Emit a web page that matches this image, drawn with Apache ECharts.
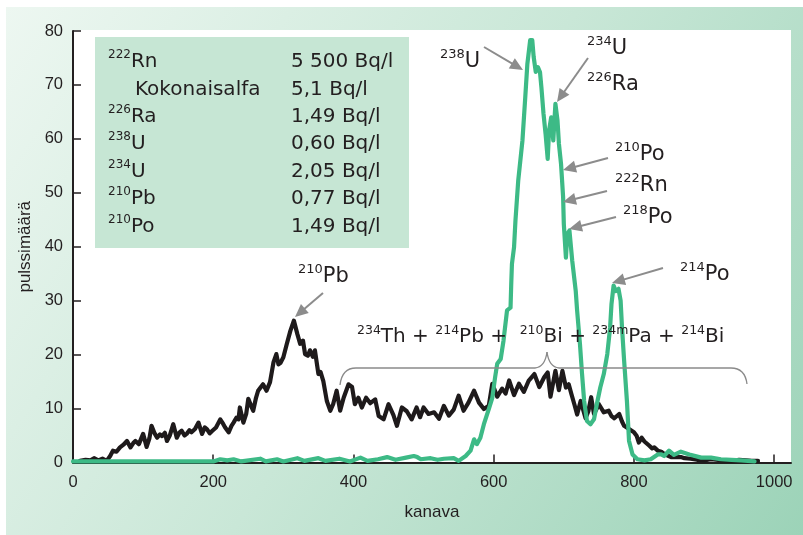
<!DOCTYPE html>
<html><head><meta charset="utf-8">
<script src="https://cdn.jsdelivr.net/npm/echarts@6/dist/echarts.min.js"></script>
<style>html,body{margin:0;padding:0;background:#fff}#c{width:803px;height:535px}</style>
</head><body><div id="c"></div>
<script>
// ---- data ----
const blackChannels = [10,18,25,30,36,42,48,53,57,62,67,72,77,82,86,89,94,100,105,109,112,116,120,124,127,131,134,138,143,148,152,155,159,162,166,169,174,179,184,188,191,195,198,204,210,214,217,222,226,229,233,236,238,243,247,250,254,257,261,264,268,271,276,281,286,290,293,296,300,305,310,315,320,324,328,331,335,338,342,345,350,353,357,362,367,371,376,381,386,393,398,402,407,412,418,424,431,436,443,450,457,462,469,476,483,490,495,500,507,515,522,529,536,543,550,557,564,572,579,586,593,598,605,612,617,622,629,636,643,650,658,665,672,677,681,688,693,698,703,707,711,715,719,724,731,735,739,743,750,757,764,768,772,779,783,786,793,800,804,807,811,815,822,826,829,834,839,844,848,853,860,867,872,881,890,900,910,920,930,940,950,960,968,977];
const blackCounts = [0.3,0.5,0.4,0.8,0.4,0.7,0.3,1.2,2.2,2.0,2.8,3.3,4.0,2.8,3.6,4.0,3.4,5.3,2.9,4.5,6.8,5.5,4.6,5.2,4.9,5.5,4.0,5.0,7.1,4.6,5.6,5.9,5.0,5.3,6.0,5.6,6.2,7.4,5.3,6.5,6.2,5.4,5.8,6.5,8.0,7.2,6.5,5.6,6.8,7.4,8.3,8.0,10.2,7.4,9.0,11.8,10.5,9.6,12.0,13.3,14.0,14.5,13.3,14.9,18.6,20.1,18.2,18.5,19.5,22.0,24.4,26.3,23.8,22.0,22.6,20.1,19.8,20.8,19.6,20.8,16.4,16.8,15.1,11.4,9.6,10.8,13.3,9.6,12.0,14.5,14.0,10.8,12.0,10.2,12.0,11.0,11.7,8.6,8.0,10.8,8.8,6.8,10.2,9.5,8.0,10.2,8.4,10.2,9.0,9.3,8.1,10.5,8.7,9.8,12.4,9.6,11.1,13.3,11.1,9.9,10.5,14.6,12.2,13.7,12.8,15.2,12.5,14.6,13.1,15.2,16.4,14.0,15.8,16.7,12.2,17.0,13.4,17.0,13.9,14.5,12.6,10.8,8.9,11.4,8.2,9.5,12.1,9.0,10.8,9.3,9.6,8.6,8.2,9.0,7.6,6.8,6.2,5.6,4.9,3.7,4.6,3.9,3.1,2.6,2.8,2.2,2.0,1.5,1.3,1.0,1.0,1.0,0.8,0.7,0.5,0.4,0.6,0.5,0.4,0.3,0.5,0.4,0.3,0.3];

const greenChannels = [0,50,100,150,200,210,220,229,240,267,275,291,300,320,330,350,360,380,395,410,420,435,448,460,475,486,491,496,510,520,529,543,550,560,567,572,576,581,586,593,598,602,605,610,614,619,624,625,626,629,631,635,641,645,648,652,655,657,660,663,666,668,671,674,677,679,682,685,688,691,693,696,699,700,703,705,708,712,717,719,723,726,729,733,738,743,748,752,757,762,766,768,771,774,778,781,783,786,790,793,798,805,815,824,834,839,843,850,857,867,879,896,910,924,939,953,972];
const greenCounts = [0.2,0.2,0.2,0.2,0.2,0.6,0.4,0.6,0.2,0.7,0.2,0.6,0.2,0.8,0.3,0.8,0.3,0.7,0.2,0.9,0.3,0.6,1.0,0.5,0.9,1.2,1.0,0.6,0.8,0.5,0.7,0.8,0.3,1.2,2.2,4.3,3.4,4.6,7.1,9.9,12.0,15.8,18.3,19.2,22.6,28.2,28.7,33.1,36.8,39.9,44.8,52.3,59.7,67.7,73.9,78.3,78.3,75.2,72.4,73.3,72.4,69.6,64.7,60.9,56.3,61.6,64.0,59.7,66.5,63.4,59.1,55.4,49.2,44.2,38.0,42.4,43.0,37.4,31.8,28.1,22.0,16.4,11.4,7.7,7.1,8.0,11.4,13.9,16.4,20.1,25.0,29.4,32.8,31.8,32.2,30.0,25.0,18.9,11.4,4.0,1.5,0.6,0.4,0.6,1.5,1.5,1.2,2.2,1.4,2.0,1.5,0.9,0.9,0.6,0.5,0.4,0.2];

const xTickStep = 200;
const yTickStep = 10;

const tableSup = ['222','','226','238','234','210','210'];
const tableName = ['Rn','Kokonaisalfa','Ra','U','U','Pb','Po'];
const tableValue = ['5 500 Bq/l','5,1 Bq/l','1,49 Bq/l','0,60 Bq/l','2,05 Bq/l','0,77 Bq/l','1,49 Bq/l'];

const xName = 'kanava';
const yName = 'pulssimäärä';

// ---- layout / style ----
const INK = '#231f20';
const GREEN = '#3dba86';
const ARROW = '#8c8c8c';
const SANS = '"Liberation Sans", Arial, sans-serif';
const WIDE = '"DejaVu Sans", sans-serif';

function zip(a, b) { return a.map((v, i) => [v, b[i]]); }

function supText(sup, main) {
  return (sup ? '{s|' + sup + '}' : '') + '{n|' + main + '}';
}
function annText(x, y, str, nSize, sSize) {
  return {
    type: 'text', x: x, y: y, z: 20,
    style: {
      text: str, textAlign: 'left', textVerticalAlign: 'middle',
      rich: {
        n: { fontSize: nSize, fontFamily: WIDE, fill: INK, lineHeight: nSize + 6 },
        s: { fontSize: sSize, fontFamily: WIDE, fill: INK, lineHeight: sSize, verticalAlign: 'top' }
      }
    }
  };
}
function arrow(x1, y1, x2, y2) {
  const dx = x2 - x1, dy = y2 - y1, L = Math.hypot(dx, dy), ux = dx / L, uy = dy / L;
  const hl = 13, hw = 6;
  const bx = x2 - ux * hl, by = y2 - uy * hl;
  return [
    { type: 'line', z: 20, shape: { x1: x1, y1: y1, x2: bx + ux * 2, y2: by + uy * 2 }, style: { stroke: ARROW, lineWidth: 2 } },
    { type: 'polygon', z: 20, shape: { points: [[x2, y2], [bx - uy * hw, by + ux * hw], [bx + uy * hw, by - ux * hw]] }, style: { fill: ARROW } }
  ];
}
const BRACE = { stroke: '#8a8a8a', lineWidth: 1.3, fill: null };
function seg(x1, y1, x2, y2) { return { type: 'line', z: 20, shape: { x1, y1, x2, y2 }, style: BRACE }; }
function curve(x1, y1, cx, cy, x2, y2) { return { type: 'bezierCurve', z: 20, shape: { x1, y1, cpx1: cx, cpy1: cy, x2, y2 }, style: BRACE }; }

const graphics = [];
graphics.push({
  type: 'rect', z: -100, silent: true,
  shape: { x: 6, y: 7, width: 797, height: 528 },
  style: {
    fill: {
      type: 'linear', x: 0, y: 0, x2: 1, y2: 1,
      colorStops: [
        { offset: 0, color: '#edf7f1' },
        { offset: 0.5, color: '#c9e7d7' },
        { offset: 1, color: '#9cd3b8' }
      ]
    }
  }
});
graphics.push({ type: 'rect', z: -90, silent: true, shape: { x: 74, y: 30, width: 717, height: 432 }, style: { fill: '#ffffff' } });
graphics.push({ type: 'rect', z: 10, shape: { x: 95, y: 37, width: 314, height: 211 }, style: { fill: '#c6e6d4' } });
const rowY0 = 62, rowStep = 27.4;
for (let i = 0; i < tableName.length; i++) {
  const y = rowY0 + rowStep * i;
  graphics.push(annText(tableSup[i] ? 108 : 135, y, supText(tableSup[i], tableName[i]), 20, 12));
  graphics.push(annText(291, y, '{n|' + tableValue[i] + '}', 20, 12));
}
graphics.push(annText(440, 62, supText('238', 'U'), 21, 13));
graphics.push(...arrow(484, 47, 523, 70));
graphics.push(annText(587, 49, supText('234', 'U'), 21, 13));
graphics.push(annText(587, 85, supText('226', 'Ra'), 21, 13));
graphics.push(...arrow(588, 58, 557, 102));
graphics.push(annText(615, 155, supText('210', 'Po'), 21, 13));
graphics.push(...arrow(608, 158, 563, 170));
graphics.push(annText(615, 186, supText('222', 'Rn'), 21, 13));
graphics.push(...arrow(607, 191, 563, 202));
graphics.push(annText(623, 218, supText('218', 'Po'), 21, 13));
graphics.push(...arrow(616, 217, 569, 229));
graphics.push(annText(298, 277, supText('210', 'Pb'), 21, 13));
graphics.push(...arrow(323, 293, 295, 317));
graphics.push(annText(680, 275, supText('214', 'Po'), 21, 13));
graphics.push(...arrow(663, 268, 612, 283));
graphics.push(annText(357, 337,
  '{s|234}{n|Th + }{s|214}{n|Pb +  }{s|210}{n|Bi + }{s|234m}{n|Pa + }{s|214}{n|Bi}', 20, 12.5));
graphics.push(curve(340, 385, 342, 368, 356, 368));
graphics.push(seg(356, 368, 535, 368));
graphics.push(curve(535, 368, 545, 367, 547, 352));
graphics.push(curve(547, 352, 549, 367, 559, 368));
graphics.push(seg(559, 368, 731, 368));
graphics.push(curve(731, 368, 745, 368, 747, 384));

const chart = echarts.init(document.getElementById('c'));
chart.setOption({
  animation: false,
  backgroundColor: '#ffffff',
  grid: { left: 73, top: 31, width: 718, bottom: 72.5 },
  xAxis: {
    type: 'value', min: 0, max: 1024, interval: xTickStep,
    name: xName, nameLocation: 'middle', nameGap: 41,
    nameTextStyle: { fontFamily: SANS, fontSize: 17, color: INK },
    axisLine: { show: true, lineStyle: { color: INK, width: 2 } },
    axisTick: { show: true, inside: true, length: 8, lineStyle: { color: INK, width: 1.5 } },
    axisLabel: { margin: 11, fontFamily: SANS, fontSize: 16.5, color: INK, showMaxLabel: false,
      formatter: function (v) { return v % xTickStep === 0 ? String(v) : ''; } },
    splitLine: { show: false }
  },
  yAxis: {
    type: 'value', min: 0, max: 80, interval: yTickStep,
    name: yName, nameLocation: 'middle', nameGap: 37,
    nameTextStyle: { fontFamily: SANS, fontSize: 17, color: INK },
    axisLine: { show: true, lineStyle: { color: INK, width: 2 } },
    axisTick: { show: true, inside: true, length: 8, lineStyle: { color: INK, width: 1.5 } },
    axisLabel: { margin: 10, fontFamily: SANS, fontSize: 16.5, color: INK },
    splitLine: { show: false }
  },
  series: [
    { type: 'line', data: zip(blackChannels, blackCounts), showSymbol: false, symbol: 'none',
      lineStyle: { color: '#1e1a1b', width: 4.2, join: 'round', cap: 'round' }, z: 3 },
    { type: 'line', data: zip(greenChannels, greenCounts), showSymbol: false, symbol: 'none',
      lineStyle: { color: GREEN, width: 4.2, join: 'round', cap: 'round' }, z: 4 }
  ],
  graphic: { elements: graphics }
});
</script>
</body></html>
